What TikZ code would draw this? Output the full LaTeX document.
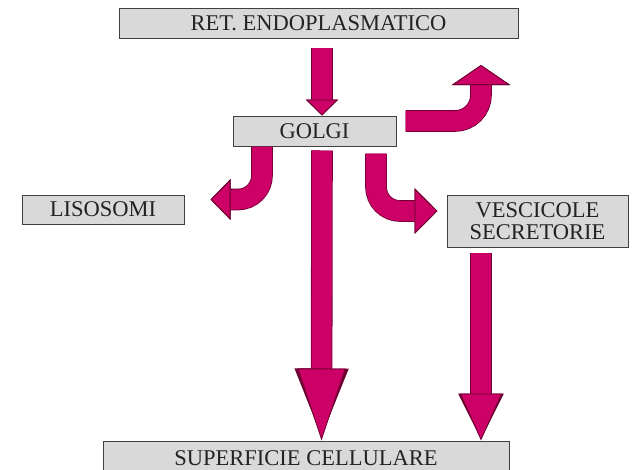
\documentclass[tikz,border=0pt]{standalone}
\usepackage{fontspec}
\setmainfont{Liberation Serif}
\usetikzlibrary{arrows.meta, calc}

\definecolor{boxgray}{RGB}{217,217,217}
\definecolor{boxline}{RGB}{64,64,64}
\definecolor{arrowfill}{RGB}{204,0,102}
\definecolor{arrowedge}{RGB}{110,0,50}
\definecolor{textgray}{RGB}{35,35,35}

\begin{document}
\begin{tikzpicture}[
        x=1pt, y=-1pt,
        font=\fontsize{22.5}{22}\selectfont,
        box/.style={
            draw=boxline,
            line width=1pt,
            fill=boxgray,
            text=textgray,
            inner sep=0pt,
            align=center
        },
        blockarr/.style 2 args={
            line width=20pt,
            draw=arrowfill,
            -{Triangle[width=#1, length=#2, line width'=0.8pt, color=arrowedge, fill=arrowfill]},
            preaction={draw=arrowedge, line width=21.6pt, -{Triangle[width=#1, length=#2]}}
        }
    ]
    \useasboundingbox (0,0) rectangle (632,469);

    % Boxes
    \node (er) [box, minimum width=399pt, minimum height=30pt] at (318.5,23) {RET. ENDOPLASMATICO};
    \node (golgi) [box, minimum width=163pt, minimum height=30pt] at (314.5,131) {GOLGI};
    \node (lis) [box, minimum width=162pt, minimum height=29pt] at (103,209.5) {LISOSOMI};
    \node (ves) [box, minimum width=181pt, minimum height=52pt] at (537.5,221) {VESCICOLE\\SECRETORIE};
    \node (sup) [box, minimum width=406pt, minimum height=34pt] at (306,458) {SUPERFICIE CELLULARE};

    % free end of the bent arrow leaving the picture
    \coordinate (exit) at (481,65);

    % Arrows
    \draw [blockarr={32pt}{16pt}] ([xshift=3.5pt, yshift=-9pt]er.south) -- ([xshift=7.5pt]golgi.north);
    \draw [blockarr={58pt}{20pt}, rounded corners=26pt] ([xshift=9pt, yshift=10pt]golgi.east) -| (exit);
    \draw [blockarr={40pt}{20pt}, rounded corners=24pt] ([xshift=-52.5pt]golgi.south) |- ($(lis.east)+(26,-10)$);
    \draw [blockarr={45pt}{23pt}, rounded corners=24pt] ([xshift=61.5pt, yshift=-7pt]golgi.south) |- ([xshift=-9pt, yshift=10pt]ves.west);
    \draw [blockarr={48pt}{72pt}] ([xshift=7.5pt, yshift=-4pt]golgi.south) -- ([xshift=15.5pt]sup.north);
    \draw [blockarr={42pt}{47pt}] ([xshift=-56.5pt, yshift=-5pt]ves.south) -- ([xshift=175pt]sup.north);

\end{tikzpicture}
\end{document}
